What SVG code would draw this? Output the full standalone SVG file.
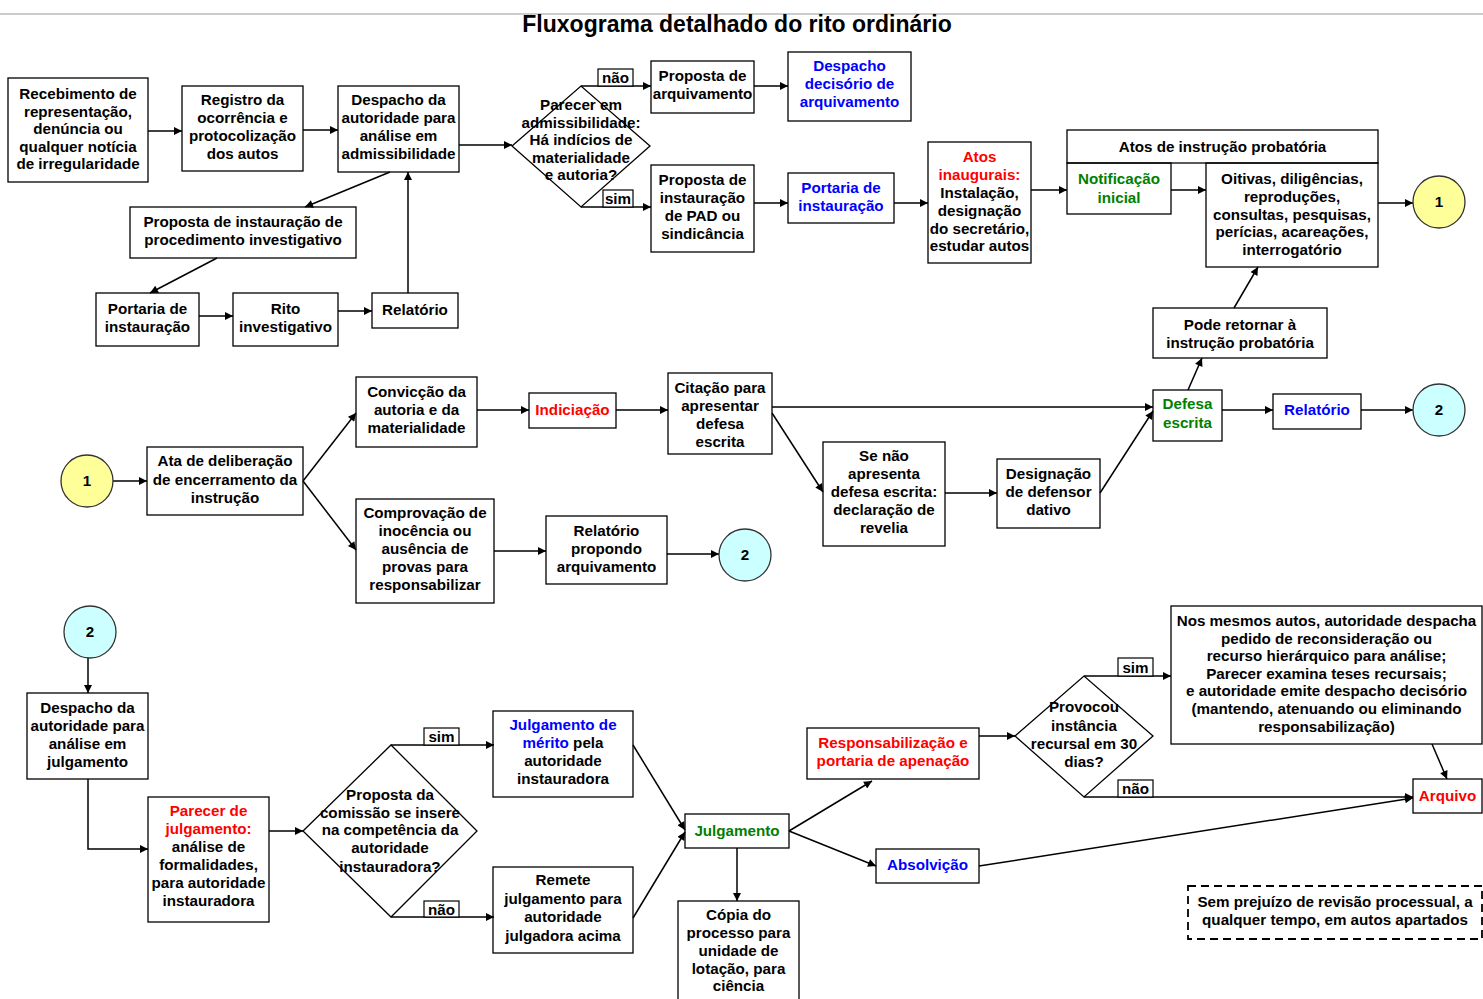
<svg xmlns="http://www.w3.org/2000/svg" width="1483" height="999" viewBox="0 0 1483 999">
<style>
text{font-family:"Liberation Sans",Arial,sans-serif;font-weight:bold;font-size:15.2px;text-anchor:middle;fill:#000}
.b{fill:none;stroke:#000;stroke-width:1.3}
.r{fill:#ff0000}.u{fill:#0000ff}.g{fill:#008000}
.c line,.c path{stroke:#000;stroke-width:1.5;fill:none}
.t{font-size:23px}
</style>
<defs>
<marker id="a" viewBox="0 0 10 10" refX="10" refY="5" markerWidth="10" markerHeight="8" markerUnits="userSpaceOnUse" orient="auto"><path d="M0,0 L10,5 L0,10 z" fill="#000"/></marker>
</defs>
<rect width="1483" height="999" fill="#fff"/>
<line x1="0" y1="14" x2="1483" y2="14" stroke="#cccccc" stroke-width="2"/>
<text class="t" x="737" y="32">Fluxograma detalhado do rito ordinário</text>

<g class="c" marker-end="url(#a)">
<line x1="148" y1="131" x2="182" y2="131"/>
<line x1="303" y1="130" x2="338" y2="130"/>
<line x1="390" y1="172" x2="305" y2="207"/>
<line x1="217" y1="258" x2="150" y2="293"/>
<line x1="199" y1="316" x2="233" y2="316"/>
<line x1="338" y1="311" x2="372" y2="311"/>
<line x1="408" y1="293" x2="408" y2="172"/>
<line x1="459" y1="145" x2="512" y2="145"/>
<line x1="581" y1="86" x2="651" y2="86"/>
<line x1="754" y1="86" x2="788" y2="86"/>
<line x1="581" y1="207" x2="651" y2="207"/>
<line x1="754" y1="203" x2="788" y2="203"/>
<line x1="894" y1="203" x2="928" y2="203"/>
<line x1="1031" y1="190" x2="1067" y2="190"/>
<line x1="1171" y1="190" x2="1206" y2="190"/>
<line x1="1378" y1="203" x2="1413" y2="203"/>
<line x1="1234" y1="308" x2="1258" y2="267"/>
<line x1="1188" y1="390" x2="1202" y2="358"/>
<line x1="1222" y1="410" x2="1273" y2="410"/>
<line x1="1361" y1="410" x2="1413" y2="410"/>
<line x1="113" y1="481" x2="147" y2="481"/>
<line x1="303" y1="481" x2="356" y2="413"/>
<line x1="303" y1="481" x2="356" y2="550"/>
<line x1="477" y1="410" x2="529" y2="410"/>
<line x1="616" y1="410" x2="668" y2="410"/>
<line x1="772" y1="407" x2="1153" y2="407"/>
<line x1="772" y1="413" x2="823" y2="492"/>
<line x1="945" y1="493" x2="997" y2="493"/>
<line x1="1100" y1="493" x2="1153" y2="411"/>
<line x1="494" y1="551" x2="546" y2="551"/>
<line x1="667" y1="554" x2="719" y2="554"/>
<line x1="88" y1="658" x2="88" y2="693"/>
<path d="M88,779 V849 H148"/>
<line x1="269" y1="831" x2="303" y2="831"/>
<line x1="391" y1="745" x2="494" y2="745"/>
<line x1="391" y1="917" x2="494" y2="917"/>
<line x1="633" y1="745" x2="685" y2="830"/>
<line x1="633" y1="918" x2="685" y2="832"/>
<line x1="737" y1="848" x2="737" y2="901"/>
<line x1="789" y1="831" x2="872" y2="781"/>
<line x1="789" y1="831" x2="876" y2="866"/>
<line x1="979" y1="736" x2="1015" y2="736"/>
<line x1="1084" y1="676" x2="1171" y2="676"/>
<line x1="1084" y1="797" x2="1413" y2="797"/>
<line x1="979" y1="866" x2="1413" y2="798"/>
<line x1="1432" y1="744" x2="1447" y2="779"/>
</g>

<g id="recebimento"><rect class="b" x="8" y="78" width="140" height="104"/><text x="78" y="99">Recebimento de<tspan x="78" dy="17.5">representação,</tspan><tspan x="78" dy="17.5">denúncia ou</tspan><tspan x="78" dy="17.5">qualquer notícia</tspan><tspan x="78" dy="17.5">de irregularidade</tspan></text></g>
<g id="registro"><rect class="b" x="182" y="86" width="121" height="85"/><text x="242.5" y="105">Registro da<tspan x="242.5" dy="18">ocorrência e</tspan><tspan x="242.5" dy="18">protocolização</tspan><tspan x="242.5" dy="18">dos autos</tspan></text></g>
<g id="despacho-adm"><rect class="b" x="338" y="86" width="121" height="86"/><text x="398.5" y="105">Despacho da<tspan x="398.5" dy="18">autoridade para</tspan><tspan x="398.5" dy="18">análise em</tspan><tspan x="398.5" dy="18">admissibilidade</tspan></text></g>
<g id="proposta-investigativo"><rect class="b" x="130" y="207" width="226" height="51"/><text x="243" y="227">Proposta de instauração de<tspan x="243" dy="18">procedimento investigativo</tspan></text></g>
<g id="portaria-inv"><rect class="b" x="96" y="293" width="103" height="53"/><text x="147.5" y="314">Portaria de<tspan x="147.5" dy="18">instauração</tspan></text></g>
<g id="rito"><rect class="b" x="233" y="293" width="105" height="53"/><text x="285.5" y="314">Rito<tspan x="285.5" dy="18">investigativo</tspan></text></g>
<g id="relatorio-inv"><rect class="b" x="372" y="293" width="86" height="35"/><text x="415" y="315">Relatório</text></g>

<g id="parecer-adm"><polygon class="b" points="512,146 581,86 650,146 581,207"/><text x="581" y="110">Parecer em<tspan x="581" dy="17.5">admissibilidade:</tspan><tspan x="581" dy="17.5">Há indícios de</tspan><tspan x="581" dy="17.5">materialidade</tspan><tspan x="581" dy="17.5">e autoria?</tspan></text></g>
<g id="lbl-nao-1"><rect x="598" y="69" width="35" height="17" fill="#fff" stroke="#000" stroke-width="1.2"/><text x="615.5" y="83">não</text></g>
<g id="lbl-sim-1"><rect x="603" y="190" width="30" height="17" fill="#fff" stroke="#000" stroke-width="1.2"/><text x="618" y="204">sim</text></g>
<g id="proposta-arq"><rect class="b" x="651" y="61" width="103" height="52"/><text x="702.5" y="81">Proposta de<tspan x="702.5" dy="18">arquivamento</tspan></text></g>
<g id="despacho-arq"><rect class="b" x="788" y="52" width="123" height="69"/><text class="u" x="849.5" y="71">Despacho<tspan x="849.5" dy="18">decisório de</tspan><tspan x="849.5" dy="18">arquivamento</tspan></text></g>
<g id="proposta-pad"><rect class="b" x="651" y="165" width="103" height="87"/><text x="702.5" y="185">Proposta de<tspan x="702.5" dy="18">instauração</tspan><tspan x="702.5" dy="18">de PAD ou</tspan><tspan x="702.5" dy="18">sindicância</tspan></text></g>
<g id="portaria-pad"><rect class="b" x="788" y="173" width="106" height="50"/><text class="u" x="841" y="193">Portaria de<tspan x="841" dy="18">instauração</tspan></text></g>
<g id="atos-inaugurais"><rect class="b" x="928" y="142" width="103" height="121"/><text x="979.5" y="162"><tspan class="r">Atos</tspan><tspan class="r" x="979.5" dy="18">inaugurais:</tspan><tspan x="979.5" dy="18">Instalação,</tspan><tspan x="979.5" dy="18">designação</tspan><tspan x="979.5" dy="17.5">do secretário,</tspan><tspan x="979.5" dy="17.5">estudar autos</tspan></text></g>
<g id="atos-instrucao"><rect class="b" x="1067" y="130" width="311" height="33"/><text x="1222.5" y="152">Atos de instrução probatória</text>
<rect class="b" x="1067" y="163" width="104" height="51"/><text class="g" x="1119" y="184">Notificação<tspan x="1119" dy="19">inicial</tspan></text>
<rect class="b" x="1206" y="163" width="172" height="104"/><text x="1292" y="184">Oitivas, diligências,<tspan x="1292" dy="18">reproduções,</tspan><tspan x="1292" dy="17.5">consultas, pesquisas,</tspan><tspan x="1292" dy="17.5">perícias, acareações,</tspan><tspan x="1292" dy="18">interrogatório</tspan></text></g>
<g id="con1-a"><circle cx="1439" cy="202" r="26" fill="#ffff99" stroke="#333" stroke-width="1.3"/><text x="1439" y="207">1</text></g>
<g id="pode-retornar"><rect class="b" x="1153" y="308" width="174" height="50"/><text x="1240" y="330">Pode retornar à<tspan x="1240" dy="18">instrução probatória</tspan></text></g>
<g id="defesa"><rect class="b" x="1153" y="390" width="69" height="51"/><text class="g" x="1187.5" y="409">Defesa<tspan x="1187.5" dy="19">escrita</tspan></text></g>
<g id="relatorio"><rect class="b" x="1273" y="394" width="88" height="35"/><text class="u" x="1317" y="415">Relatório</text></g>
<g id="con2-a"><circle cx="1439" cy="410" r="26" fill="#ccffff" stroke="#333" stroke-width="1.3"/><text x="1439" y="415">2</text></g>

<g id="con1-b"><circle cx="87" cy="481" r="26" fill="#ffff99" stroke="#333" stroke-width="1.3"/><text x="87" y="486">1</text></g>
<g id="ata"><rect class="b" x="147" y="447" width="156" height="68"/><text x="225" y="466">Ata de deliberação<tspan x="225" dy="18.5">de encerramento da</tspan><tspan x="225" dy="18.5">instrução</tspan></text></g>
<g id="conviccao"><rect class="b" x="356" y="377" width="121" height="70"/><text x="416.5" y="397">Convicção da<tspan x="416.5" dy="18">autoria e da</tspan><tspan x="416.5" dy="18">materialidade</tspan></text></g>
<g id="comprovacao"><rect class="b" x="356" y="499" width="138" height="104"/><text x="425" y="518">Comprovação de<tspan x="425" dy="18">inocência ou</tspan><tspan x="425" dy="18">ausência de</tspan><tspan x="425" dy="18">provas para</tspan><tspan x="425" dy="18">responsabilizar</tspan></text></g>
<g id="indiciacao"><rect class="b" x="529" y="393" width="87" height="35"/><text class="r" x="572.5" y="415">Indiciação</text></g>
<g id="citacao"><rect class="b" x="668" y="373" width="104" height="81"/><text x="720" y="393">Citação para<tspan x="720" dy="17.5">apresentar</tspan><tspan x="720" dy="18">defesa</tspan><tspan x="720" dy="18">escrita</tspan></text></g>
<g id="revelia"><rect class="b" x="823" y="442" width="122" height="104"/><text x="884" y="461">Se não<tspan x="884" dy="18">apresenta</tspan><tspan x="884" dy="18">defesa escrita:</tspan><tspan x="884" dy="18">declaração de</tspan><tspan x="884" dy="18">revelia</tspan></text></g>
<g id="dativo"><rect class="b" x="997" y="459" width="103" height="69"/><text x="1048.5" y="479">Designação<tspan x="1048.5" dy="18">de defensor</tspan><tspan x="1048.5" dy="18">dativo</tspan></text></g>
<g id="relatorio-arq"><rect class="b" x="546" y="516" width="121" height="68"/><text x="606.5" y="536">Relatório<tspan x="606.5" dy="18">propondo</tspan><tspan x="606.5" dy="18">arquivamento</tspan></text></g>
<g id="con2-b"><circle cx="745" cy="555" r="26" fill="#ccffff" stroke="#333" stroke-width="1.3"/><text x="745" y="560">2</text></g>

<g id="con2-c"><circle cx="90" cy="632" r="26" fill="#ccffff" stroke="#333" stroke-width="1.3"/><text x="90" y="637">2</text></g>
<g id="despacho-julg"><rect class="b" x="27" y="693" width="121" height="86"/><text x="87.5" y="713">Despacho da<tspan x="87.5" dy="17.5">autoridade para</tspan><tspan x="87.5" dy="18">análise em</tspan><tspan x="87.5" dy="18.5">julgamento</tspan></text></g>
<g id="parecer-julg"><rect class="b" x="148" y="797" width="121" height="125"/><text x="208.5" y="816"><tspan class="r">Parecer de</tspan><tspan class="r" x="208.5" dy="18">julgamento:</tspan><tspan x="208.5" dy="18">análise de</tspan><tspan x="208.5" dy="18">formalidades,</tspan><tspan x="208.5" dy="18">para autoridade</tspan><tspan x="208.5" dy="18">instauradora</tspan></text></g>
<g id="competencia"><polygon class="b" points="303,831 391,745 477,831 391,917"/><text x="390" y="800">Proposta da<tspan x="390" dy="17.5">comissão se insere</tspan><tspan x="390" dy="17.5">na competência da</tspan><tspan x="390" dy="18">autoridade</tspan><tspan x="390" dy="18.5">instauradora?</tspan></text></g>
<g id="lbl-sim-2"><rect x="424" y="728" width="35" height="17" fill="#fff" stroke="#000" stroke-width="1.2"/><text x="441.5" y="742">sim</text></g>
<g id="lbl-nao-2"><rect x="424" y="901" width="35" height="16" fill="#fff" stroke="#000" stroke-width="1.2"/><text x="441.5" y="915">não</text></g>
<g id="julg-merito"><rect class="b" x="493" y="711" width="140" height="86"/><text x="563" y="730"><tspan class="u">Julgamento de</tspan><tspan x="563" dy="18"><tspan class="u">mérito</tspan> pela</tspan><tspan x="563" dy="18">autoridade</tspan><tspan x="563" dy="18">instauradora</tspan></text></g>
<g id="remete"><rect class="b" x="493" y="867" width="140" height="86"/><text x="563" y="885">Remete<tspan x="563" dy="18.5">julgamento para</tspan><tspan x="563" dy="18">autoridade</tspan><tspan x="563" dy="19">julgadora acima</tspan></text></g>
<g id="julgamento"><rect class="b" x="685" y="814" width="104" height="34"/><text class="g" x="737" y="836">Julgamento</text></g>
<g id="copia"><rect class="b" x="678" y="901" width="121" height="110"/><text x="738.5" y="920">Cópia do<tspan x="738.5" dy="18">processo para</tspan><tspan x="738.5" dy="18">unidade de</tspan><tspan x="738.5" dy="18">lotação, para</tspan><tspan x="738.5" dy="17">ciência</tspan></text></g>
<g id="responsabilizacao"><rect class="b" x="807" y="728" width="172" height="51"/><text class="r" x="893" y="748">Responsabilização e<tspan x="893" dy="18">portaria de apenação</tspan></text></g>
<g id="absolvicao"><rect class="b" x="876" y="849" width="103" height="34"/><text class="u" x="927.5" y="870">Absolvição</text></g>
<g id="recurso"><polygon class="b" points="1015,736 1084,676 1153,736 1084,797"/><text x="1084" y="712">Provocou<tspan x="1084" dy="18.5">instância</tspan><tspan x="1084" dy="18">recursal em 30</tspan><tspan x="1084" dy="18">dias?</tspan></text></g>
<g id="lbl-sim-3"><rect x="1118" y="658" width="35" height="18" fill="#fff" stroke="#000" stroke-width="1.2"/><text x="1135.5" y="673">sim</text></g>
<g id="lbl-nao-3"><rect x="1118" y="780" width="35" height="17" fill="#fff" stroke="#000" stroke-width="1.2"/><text x="1135.5" y="794">não</text></g>
<g id="nos-mesmos"><rect class="b" x="1171" y="606" width="311" height="138"/><text x="1326.5" y="626">Nos mesmos autos, autoridade despacha<tspan x="1326.5" dy="17.5">pedido de reconsideração ou</tspan><tspan x="1326.5" dy="17.5">recurso hierárquico para análise;</tspan><tspan x="1326.5" dy="17.5">Parecer examina teses recursais;</tspan><tspan x="1326.5" dy="17.5">e autoridade emite despacho decisório</tspan><tspan x="1326.5" dy="17.5">(mantendo, atenuando ou eliminando</tspan><tspan x="1326.5" dy="18.5">responsabilização)</tspan></text></g>
<g id="arquivo"><rect class="b" x="1413" y="779" width="69" height="34"/><text class="r" x="1447.5" y="801">Arquivo</text></g>
<g id="nota"><rect x="1188" y="886" width="294" height="53" fill="none" stroke="#000" stroke-width="1.8" stroke-dasharray="8,5"/><text x="1335" y="907">Sem prejuízo de revisão processual, a<tspan x="1335" dy="18">qualquer tempo, em autos apartados</tspan></text></g>
</svg>
